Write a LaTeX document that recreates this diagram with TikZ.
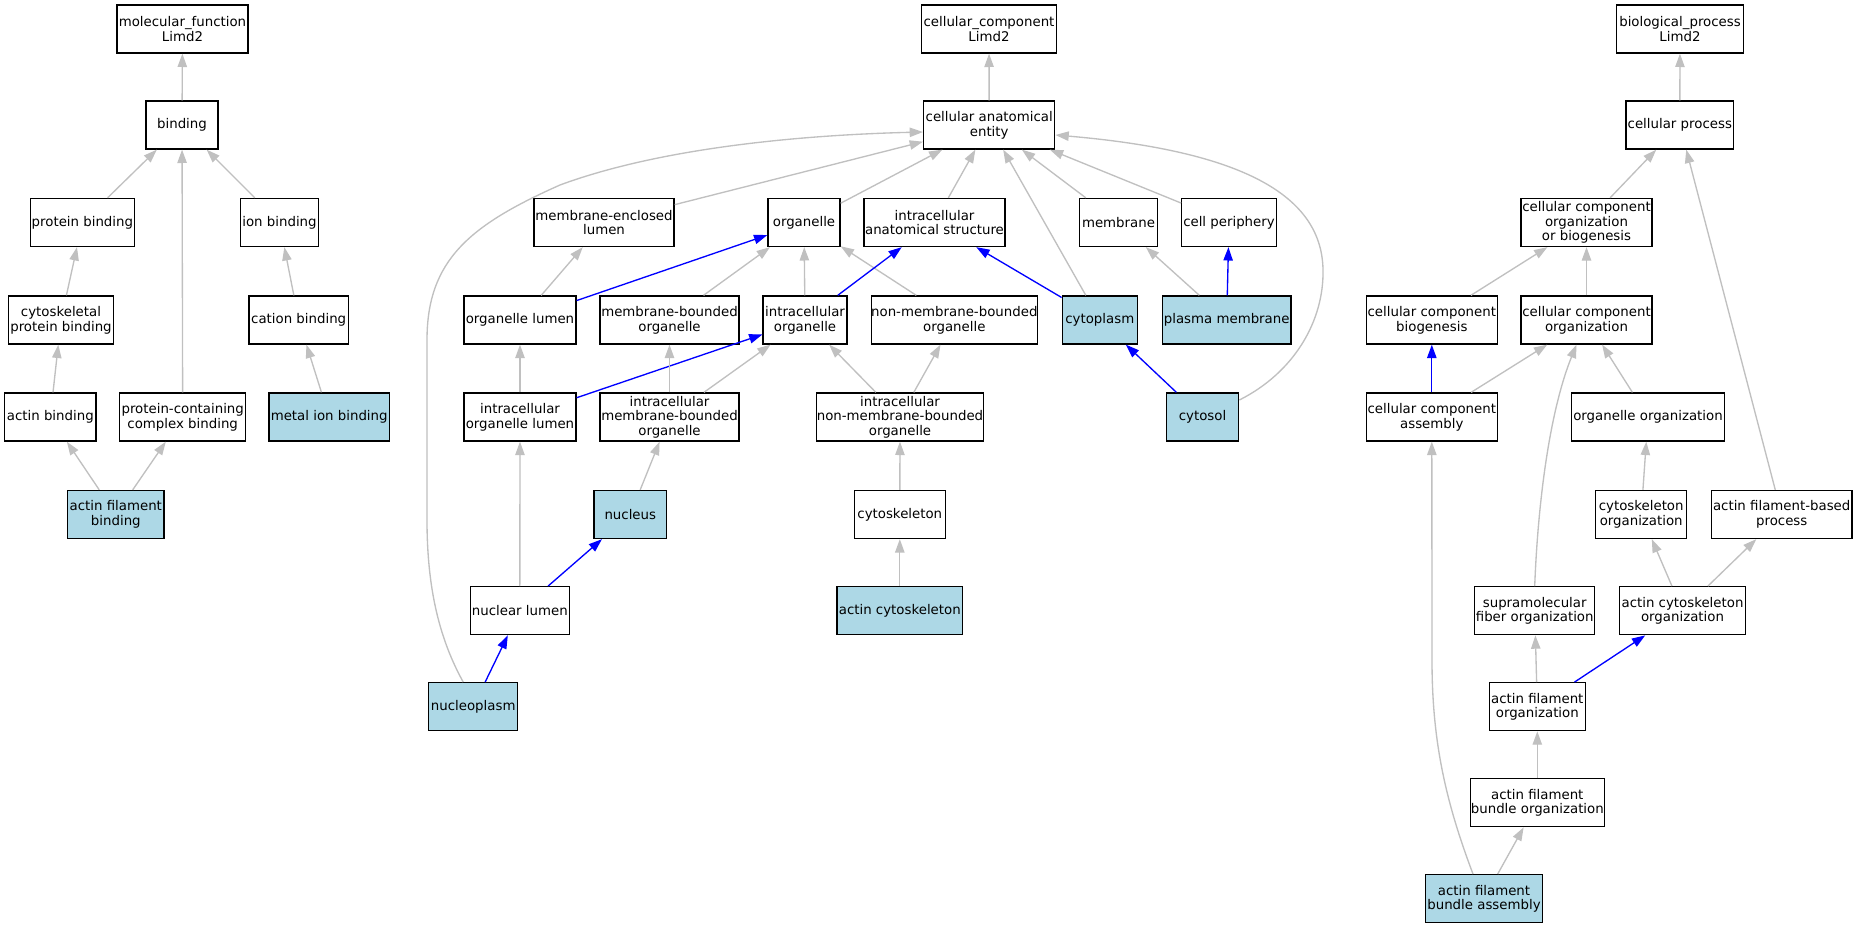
\documentclass[tikz,border=0pt]{standalone}
\usepackage{fontspec}
\setmainfont{DejaVu Sans}
\usetikzlibrary{arrows.meta,calc}
\definecolor{edgegray}{HTML}{C0C0C0}
\definecolor{edgeblue}{HTML}{0000FF}
\definecolor{hlblue}{HTML}{ADD8E6}
\tikzset{
  box/.style={draw=black, line width=1pt, rectangle, minimum height=36pt, inner sep=0pt,
    align=center, font={\fontsize{10pt}{11pt}\selectfont}},
  hl/.style={box, fill=hlblue},
  gedge/.style={draw=edgegray, line width=1pt, -{Triangle[length=10pt,width=7pt]}},
  bedge/.style={draw=edgeblue, line width=1pt, -{Triangle[length=10pt,width=7pt]}},
}
\begin{document}
\begin{tikzpicture}[x=0.75pt,y=-0.75pt]
\fill[white] (0,0) rectangle (1856,928);
\useasboundingbox (0,0) rectangle (1856,928);
% ---------- molecular function ----------
\node[box, minimum width=98.3pt] (mf) at (182.5,29) {molecular\_function\\Limd2};
\node[box, minimum width=54pt] (binding) at (182,125) {binding};
\node[box, minimum width=78pt] (pb) at (82.4,222.5) {protein binding};
\node[box, minimum width=58.7pt] (ionb) at (279.5,222.5) {ion binding};
\node[box, minimum width=78.5pt] (cpb) at (61,320) {cytoskeletal\\protein binding};
\node[box, minimum width=74.5pt] (cation) at (298.7,320) {cation binding};
\node[box, minimum width=68.5pt] (actinb) at (50.3,417) {actin binding};
\node[box, minimum width=94.5pt] (pcc) at (182.7,417) {protein-containing\\complex binding};
\node[hl, minimum width=90.2pt] (metal) at (329.2,417) {metal ion binding};
\node[hl, minimum width=72.2pt] (afb) at (115.8,514.5) {actin filament\\binding};
% ---------- cellular component ----------
\node[box, minimum width=101.3pt] (cc) at (989,29) {cellular\_component\\Limd2};
\node[box, minimum width=98.3pt] (cae) at (989.2,125) {cellular anatomical\\entity};
\node[box, minimum width=105pt] (mel) at (604,222.5) {membrane-enclosed\\lumen};
\node[box, minimum width=54pt] (organelle) at (804,222.5) {organelle};
\node[box, minimum width=105.8pt] (ias) at (934.5,222.5) {intracellular\\anatomical structure};
\node[box, minimum width=58.3pt] (membrane) at (1118.5,222.5) {membrane};
\node[box, minimum width=70.8pt] (cellper) at (1229,222.5) {cell periphery};
\node[box, minimum width=84pt] (ol) at (520,320) {organelle lumen};
\node[box, minimum width=104.3pt] (mbo) at (669.5,320) {membrane-bounded\\organelle};
\node[box, minimum width=62.8pt] (io) at (805,320) {intracellular\\organelle};
\node[box, minimum width=124.5pt] (nmbo) at (954.3,320) {non-membrane-bounded\\organelle};
\node[hl, minimum width=56.3pt] (cytoplasm) at (1099.8,320) {cytoplasm};
\node[hl, minimum width=96.5pt] (pm) at (1226.7,320) {plasma membrane};
\node[box, minimum width=84pt] (iol) at (520,417) {intracellular\\organelle lumen};
\node[box, minimum width=104.3pt] (imbo) at (669.5,417) {intracellular\\membrane-bounded\\organelle};
\node[box, minimum width=125pt] (inmbo) at (900,417) {intracellular\\non-membrane-bounded\\organelle};
\node[hl, minimum width=54.3pt] (cytosol) at (1202.5,417) {cytosol};
\node[hl, minimum width=54.5pt] (nucleus) at (630.3,514.5) {nucleus};
\node[box, minimum width=68.3pt] (cytoskeleton) at (899.8,514.5) {cytoskeleton};
\node[box, minimum width=74.3pt] (nlumen) at (519.8,610.7) {nuclear lumen};
\node[hl, minimum width=94.3pt] (actincyto) at (899.8,610.7) {actin cytoskeleton};
\node[hl, minimum width=66.8pt] (nucleoplasm) at (473.2,706.7) {nucleoplasm};
% ---------- biological process ----------
\node[box, minimum width=95pt] (bp) at (1680,29) {biological\_process\\Limd2};
\node[box, minimum width=80.8pt] (cp) at (1679.8,125) {cellular process};
\node[box, minimum width=98.3pt] (ccob) at (1586.5,222.5) {cellular component\\organization\\or biogenesis};
\node[box, minimum width=98.3pt] (ccb) at (1431.8,320) {cellular component\\biogenesis};
\node[box, minimum width=98.3pt] (cco) at (1586.5,320) {cellular component\\organization};
\node[box, minimum width=98.3pt] (cca) at (1431.8,417) {cellular component\\assembly};
\node[box, minimum width=114.5pt] (oo) at (1648,417) {organelle organization};
\node[box, minimum width=68.3pt] (co) at (1641.2,514.5) {cytoskeleton\\organization};
\node[box, minimum width=105.5pt] (afbp) at (1781.7,514.5) {actin filament-based\\process};
\node[box, minimum width=90pt] (sfo) at (1534.7,610.7) {supramolecular\\fiber organization};
\node[box, minimum width=94.8pt] (aco) at (1682.5,610.7) {actin cytoskeleton\\organization};
\node[box, minimum width=72pt] (afo) at (1537.3,706.7) {actin filament\\organization};
\node[box, minimum width=100.5pt] (afbo) at (1537.3,802.7) {actin filament\\bundle organization};
\node[hl, minimum width=88pt] (afba) at (1484,898.7) {actin filament\\bundle assembly};
% ---------- edges: molecular function ----------
\draw[gedge] (binding) -- (mf);
\draw[gedge] (pb) -- (binding);
\draw[gedge] (ionb) -- (binding);
\draw[gedge] (cpb) -- (pb);
\draw[gedge] (cation) -- (ionb);
\draw[gedge] (actinb) -- (cpb);
\draw[gedge] (pcc) -- (binding);
\draw[gedge] (metal) -- (cation);
\draw[gedge] (afb) -- (actinb);
\draw[gedge] (afb) -- (pcc);
% ---------- edges: cellular component ----------
\draw[gedge] (cae) -- (cc);
\draw[gedge] (mel) -- (cae);
\draw[gedge] (organelle) -- (cae);
\draw[gedge] (ias) -- (cae);
\draw[gedge] (membrane) -- (cae);
\draw[gedge] (cellper) -- (cae);
\draw[gedge] (cytoplasm) -- (cae);
\draw[gedge] ($(cytosol.east)+(0,-17)$) .. controls (1295,372) and (1324,320) .. (1323,270)
   .. controls (1322,190) and (1230,150) .. ($(cae.east)+(0,10)$);
\draw[gedge] ($(nucleoplasm.north)+(-10,0)$) .. controls (440,640) and (427,590) .. (427,520)
   -- (427,340) .. controls (427,260) and (470,225) .. (560,185)
   .. controls (660,148) and (800,135) .. ($(cae.west)+(0,7)$);
\draw[gedge] (ol) -- (mel);
\draw[bedge] (ol) -- (organelle);
\draw[gedge] (mbo) -- (organelle);
\draw[gedge] (io) -- (organelle);
\draw[gedge] (nmbo) -- (organelle);
\draw[bedge] (io) -- (ias);
\draw[bedge] (cytoplasm) -- (ias);
\draw[gedge] (pm) -- (membrane);
\draw[bedge] (pm) -- (cellper);
\draw[gedge] (iol) -- (ol);
\draw[bedge] (iol) -- (io);
\draw[gedge] (imbo) -- (mbo);
\draw[gedge] (imbo) -- (io);
\draw[gedge] (inmbo) -- (io);
\draw[gedge] (inmbo) -- (nmbo);
\draw[bedge] (cytosol) -- (cytoplasm);
\draw[gedge] (nucleus) -- (imbo);
\draw[gedge] (cytoskeleton) -- (inmbo);
\draw[gedge] (nlumen) -- (iol);
\draw[bedge] (nlumen) -- (nucleus);
\draw[gedge] (actincyto) -- (cytoskeleton);
\draw[bedge] (nucleoplasm) -- (nlumen);
% ---------- edges: biological process ----------
\draw[gedge] (cp) -- (bp);
\draw[gedge] (ccob) -- (cp);
\draw[gedge] (afbp) -- (cp);
\draw[gedge] (ccb) -- (ccob);
\draw[gedge] (cco) -- (ccob);
\draw[bedge] (cca) -- (ccb);
\draw[gedge] (cca) -- (cco);
\draw[gedge] (oo) -- (cco);
\draw[gedge] (sfo.north) .. controls (1538,500) and (1550,410) .. ($(cco.south)+(-10,0)$);
\draw[gedge] (co) -- (oo);
\draw[gedge] (aco) -- (co);
\draw[gedge] (aco) -- (afbp);
\draw[gedge] (afo) -- (sfo);
\draw[bedge] (afo) -- (aco);
\draw[gedge] (afbo) -- (afo);
\draw[gedge] (afba) -- (afbo);
\draw[gedge] ($(afba.north)+(-11,0)$) .. controls (1445,800) and (1432,740) .. (1432,660)
   -- (cca.south);
\end{tikzpicture}
\end{document}
